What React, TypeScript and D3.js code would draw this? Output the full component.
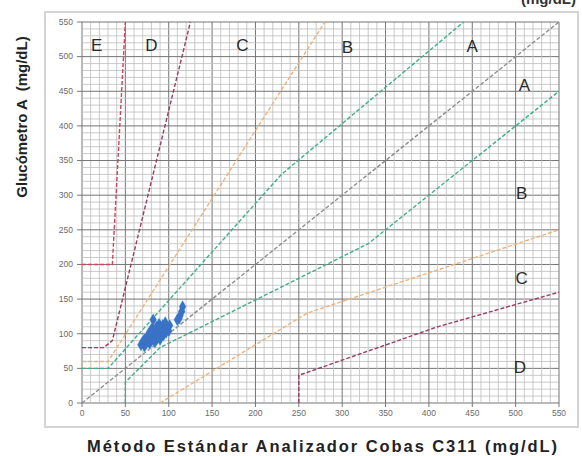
import React from "react"
import * as d3 from "d3"

const width = 582
const height = 456

// reference method (x) and meter (y) readings, mg/dL
const refValues = [68, 70, 72, 72, 74, 75, 76, 77, 78, 78, 79, 80, 80, 81, 82, 82, 83, 84, 84, 85, 86, 86, 87, 88, 88, 89, 90, 90, 91, 92, 93, 94, 95, 96, 97, 98, 100, 101, 110, 112, 113, 115, 116]
const meterValues = [84, 88, 82, 92, 86, 95, 90, 100, 86, 94, 104, 90, 98, 108, 120, 94, 100, 88, 104, 96, 110, 92, 100, 106, 96, 114, 100, 92, 108, 104, 112, 98, 106, 116, 102, 110, 104, 112, 120, 122, 126, 132, 139]

const axisTicks = [0, 50, 100, 150, 200, 250, 300, 350, 400, 450, 500, 550]

// Parkes grid boundaries (type 2)
const identityLine: [number, number][] = [[0, 0], [550, 550]]
const aUpper: [number, number][] = [[0, 50], [30, 50], [230, 330], [440, 550]]
const aLower: [number, number][] = [[50, 0], [50, 30], [90, 80], [330, 230], [550, 450]]
const bUpper: [number, number][] = [[0, 60], [30, 60], [280, 550]]
const bLower: [number, number][] = [[90, 0], [260, 130], [550, 250]]
const cUpper: [number, number][] = [[0, 80], [25, 80], [35, 90], [125, 550]]
const cLower: [number, number][] = [[250, 0], [250, 40], [410, 110], [550, 160]]
const dUpper: [number, number][] = [[0, 200], [35, 200], [50, 550]]

const zoneLabels = ["E", "D", "C", "B", "A", "A", "B", "C", "D"]
const zoneLabelX = [17, 80, 185, 306, 450, 510, 507, 507, 505]
const zoneLabelY = [517, 517, 517, 514, 516, 459, 304, 180, 52]

const boundaries = [
  { pts: identityLine, color: "#8c8c8c" },
  { pts: aUpper, color: "#3fae8c" },
  { pts: aLower, color: "#3fae8c" },
  { pts: bUpper, color: "#f0b27a" },
  { pts: bLower, color: "#f0b27a" },
  { pts: cUpper, color: "#9a3d66" },
  { pts: cLower, color: "#9a3d66" },
  { pts: dUpper, color: "#d2445e" },
]

export default function App() {
  const x = d3.scaleLinear().domain([0, 550]).range([82, 559])
  const y = d3.scaleLinear().domain([0, 550]).range([403, 22])
  const line = d3.line<[number, number]>().x(d => x(d[0])).y(d => y(d[1]))
  const minor = d3.range(0, 551, 10)
  const diamond = d3.symbol().type(d3.symbolDiamond).size(40)()
  const font = "'Liberation Sans', Arial, sans-serif"

  return (
    <svg width={width} height={height} style={{ position: "absolute", left: 0, top: 0, background: "#fff" }}>
      <text x={576} y={4} textAnchor="end" fontFamily={font} fontWeight="bold" fontSize={15} fill="#333">(mg/dL)</text>
      <rect x={45} y={12} width={533} height={415} fill="#fff" stroke="#d4d4d4" strokeWidth={2} />

      {minor.map(v => (
        <g key={v}>
          <line x1={x(v)} x2={x(v)} y1={y(0)} y2={y(550)} stroke={v % 50 === 0 ? "#747474" : "#bdbdbd"} strokeWidth={v % 50 === 0 ? 1 : 0.8} />
          <line x1={x(0)} x2={x(550)} y1={y(v)} y2={y(v)} stroke={v % 50 === 0 ? "#747474" : "#bdbdbd"} strokeWidth={v % 50 === 0 ? 1 : 0.8} />
        </g>
      ))}

      {axisTicks.map(t => (
        <g key={t} fontFamily={font} fontSize={8.5} fill="#6a6a6a">
          <line x1={x(0) - 5} x2={x(0)} y1={y(t)} y2={y(t)} stroke="#777" />
          <text x={x(0) - 9} y={y(t)} dy="0.33em" textAnchor="end">{t}</text>
          <line x1={x(t)} x2={x(t)} y1={y(0)} y2={y(0) + 4} stroke="#777" />
          <text x={x(t)} y={y(0) + 13} textAnchor="middle">{t}</text>
        </g>
      ))}

      {boundaries.map((b, i) => (
        <path key={i} d={line(b.pts) ?? ""} fill="none" stroke={b.color} strokeWidth={1.4} strokeDasharray="4,2" />
      ))}

      {refValues.map((v, i) => (
        <path key={i} d={diamond ?? ""} transform={`translate(${x(v)},${y(meterValues[i])})`} fill="#3a72c6" stroke="#a9d4f0" strokeWidth={1.5} strokeOpacity={0.6} />
      ))}
      {refValues.map((v, i) => (
        <path key={"c" + i} d={diamond ?? ""} transform={`translate(${x(v)},${y(meterValues[i])})`} fill="#3a72c6" />
      ))}

      {zoneLabels.map((l, i) => (
        <text key={i} x={x(zoneLabelX[i])} y={y(zoneLabelY[i])} dy="0.36em" textAnchor="middle" fontFamily={font} fontSize={17} fill="#2a2a2a">{l}</text>
      ))}

      <text transform={`translate(27,117) rotate(-90)`} textAnchor="middle" fontFamily={font} fontWeight="bold" fontSize={15} fill="#222" style={{ whiteSpace: "pre" }}>{"Glucómetro A  (mg/dL)"}</text>
      <text x={322} y={452} textAnchor="middle" fontFamily={font} fontWeight="bold" fontSize={16.5} fill="#222" textLength={470} lengthAdjust="spacing">Método Estándar Analizador Cobas C311 (mg/dL)</text>
    </svg>
  )
}
